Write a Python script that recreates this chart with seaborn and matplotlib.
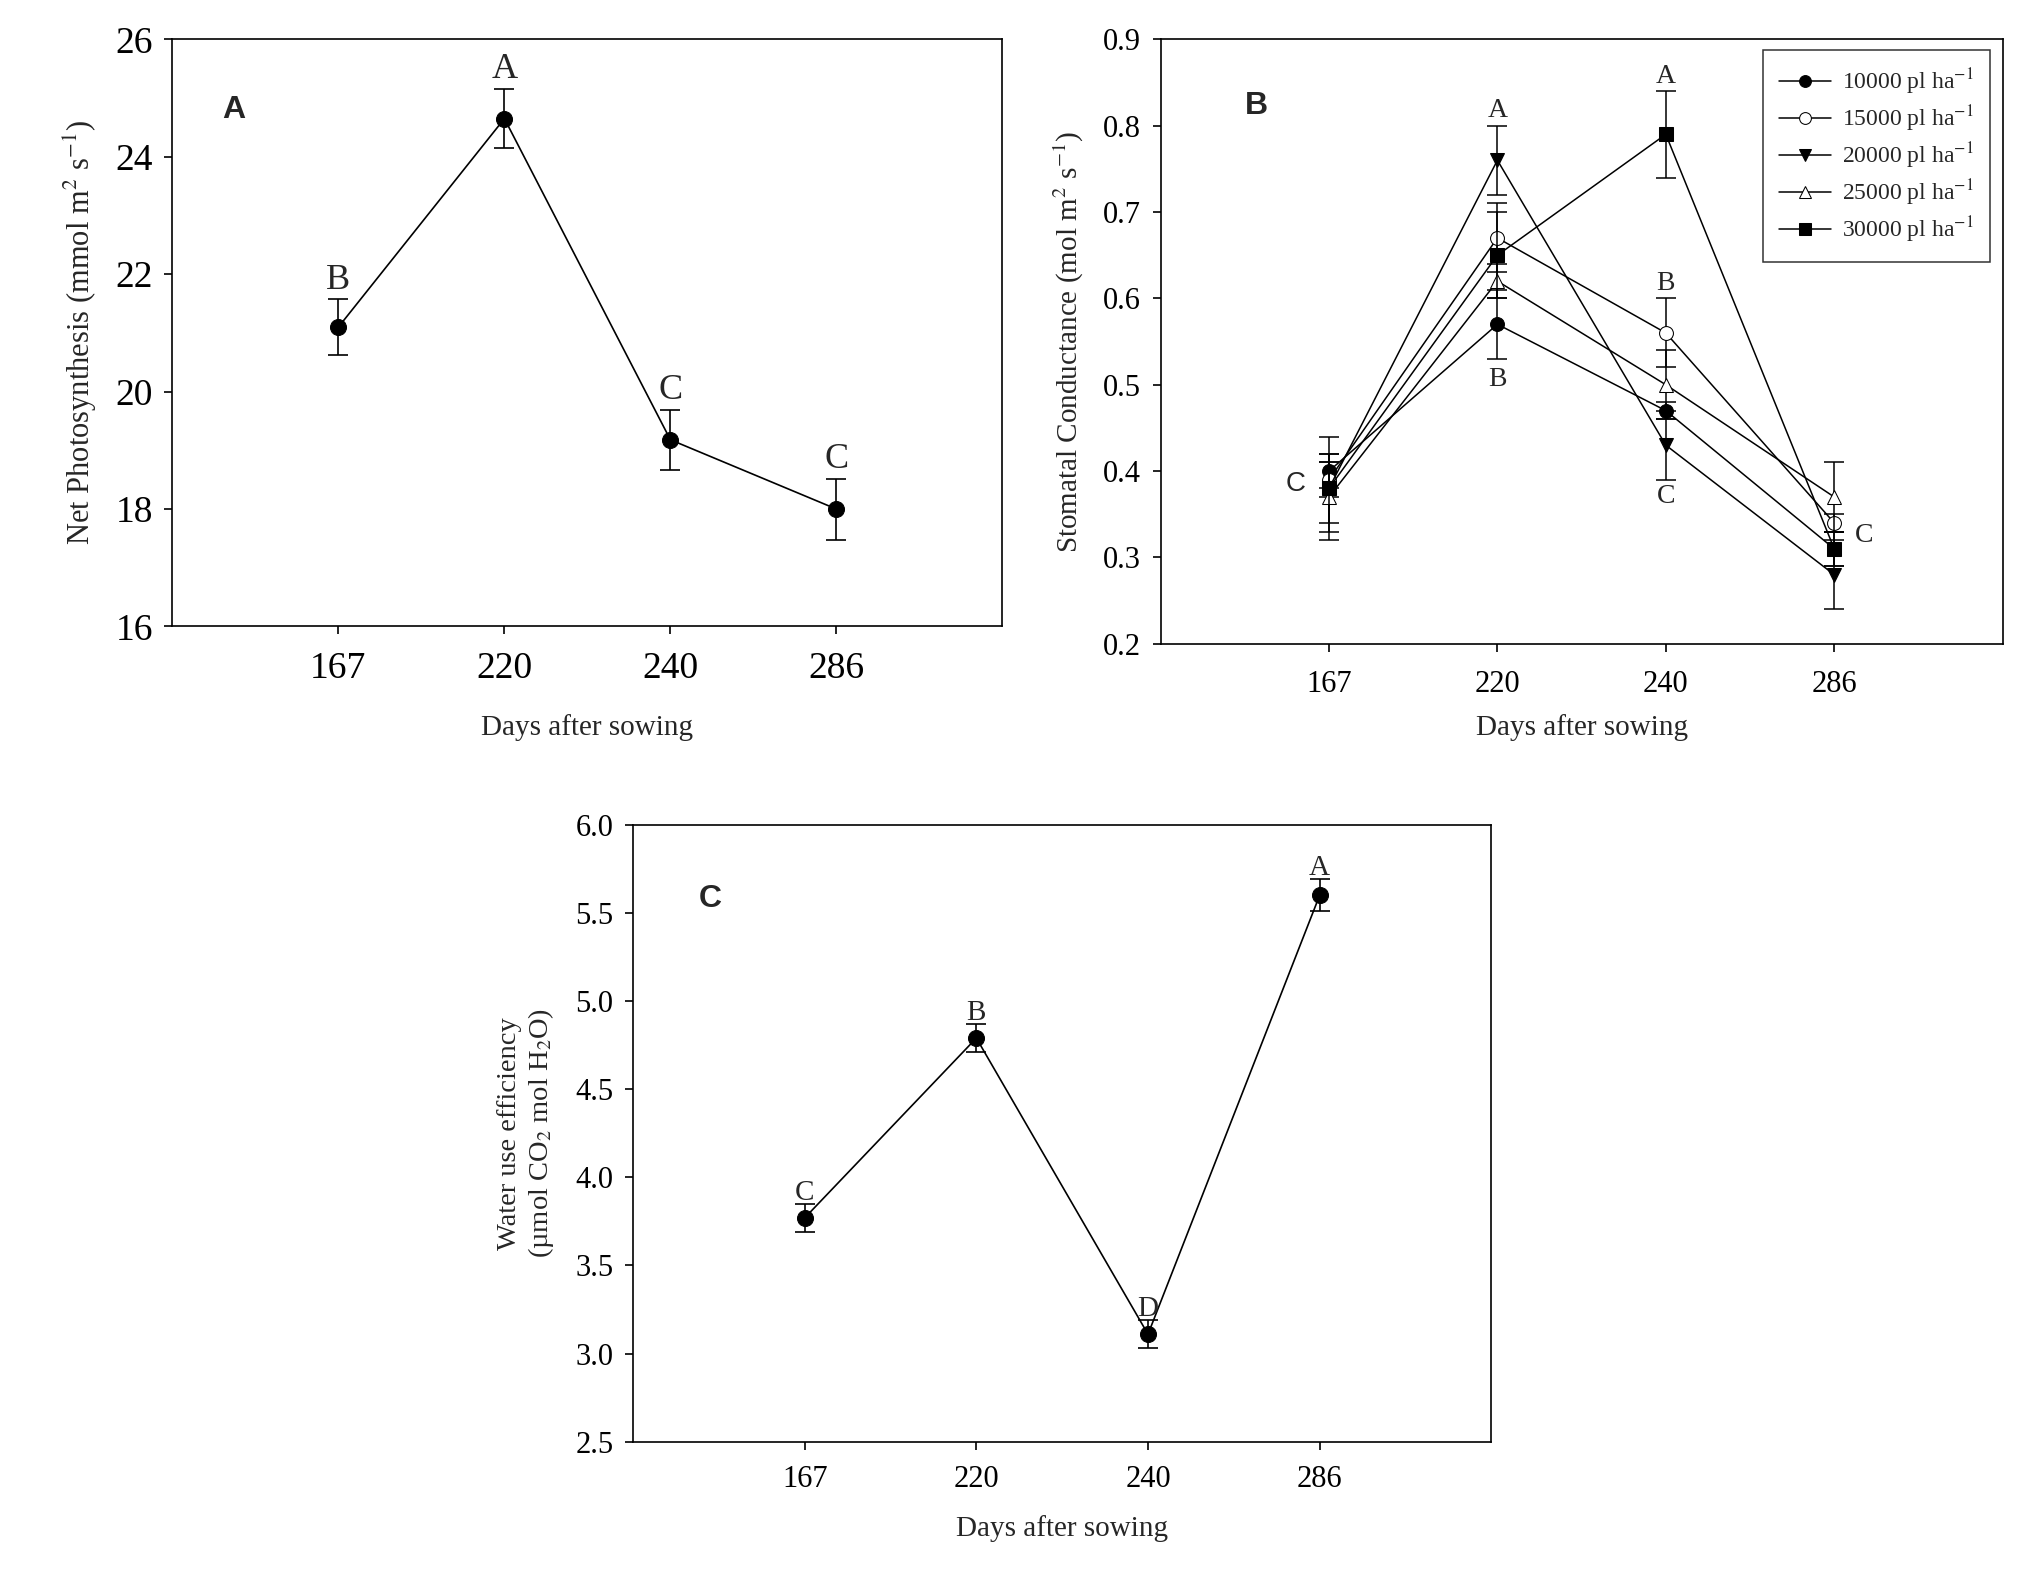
import numpy as np
import pandas as pd
import matplotlib
matplotlib.use("Agg")
import matplotlib.pyplot as plt
import seaborn as sns

# data
days = ["167", "220", "240", "286"]

pn_mean = [21.1, 24.65, 19.18, 18.0]
pn_err = [0.47, 0.50, 0.51, 0.52]
pn_letters = ["B", "A", "C", "C"]

densities = ["10000", "15000", "20000", "25000", "30000"]
gs_10000 = [0.40, 0.57, 0.47, 0.31]
gs_15000 = [0.39, 0.67, 0.56, 0.34]
gs_20000 = [0.38, 0.76, 0.43, 0.28]
gs_25000 = [0.37, 0.62, 0.50, 0.37]
gs_30000 = [0.38, 0.65, 0.79, 0.31]
gs_err_10000 = [0.02, 0.04, 0.01, 0.02]
gs_err_15000 = [0.02, 0.04, 0.04, 0.01]
gs_err_20000 = [0.04, 0.04, 0.04, 0.04]
gs_err_25000 = [0.04, 0.02, 0.04, 0.04]
gs_err_30000 = [0.06, 0.05, 0.05, 0.02]

wue_mean = [3.77, 4.79, 3.11, 5.60]
wue_err = [0.08, 0.08, 0.08, 0.09]
wue_letters = ["C", "B", "D", "A"]

sns.set_theme(style="ticks")
plt.rcParams['font.family'] = ['Liberation Serif', 'DejaVu Serif']
plt.rcParams['mathtext.fontset'] = 'stix'
plt.rcParams['axes.linewidth'] = 1.2
plt.rcParams['xtick.major.width'] = 1.2
plt.rcParams['ytick.major.width'] = 1.2
plt.rcParams['xtick.major.size'] = 6
plt.rcParams['ytick.major.size'] = 6

pos = np.arange(1, len(days) + 1)

fig = plt.figure(figsize=(20.29, 15.74), dpi=100)
axA = fig.add_axes([0.085, 0.602, 0.409, 0.373])
axB = fig.add_axes([0.572, 0.591, 0.415, 0.384])
axC = fig.add_axes([0.312, 0.084, 0.423, 0.392])

for ax in (axA, axB, axC):
    ax.set_xlim(0, 5)
    ax.set_xticks(pos)
    ax.set_xticklabels(days)
    ax.tick_params(top=False, right=False, direction='out', colors='black')
    for s in ax.spines.values():
        s.set_color('black')
        s.set_visible(True)

# ---- panel A
dfA = pd.DataFrame({"pos": pos, "pn": pn_mean})
axA.errorbar(pos, pn_mean, yerr=pn_err, fmt='none', ecolor='black', capsize=7, elinewidth=1.2, capthick=1.2)
sns.lineplot(data=dfA, x="pos", y="pn", ax=axA, color='black', linewidth=1.2,
             marker='o', markersize=11.5, markeredgecolor='black', markerfacecolor='black')
for p, m, e, t in zip(pos, pn_mean, pn_err, pn_letters):
    axA.text(p, m + e + 0.05, t, ha='center', va='bottom', fontsize=26)
axA.set_ylim(16, 26)
axA.set_yticks(np.arange(16, 27, 2))
axA.tick_params(axis='y', labelsize=27, pad=8)
axA.tick_params(axis='x', labelsize=27, pad=12)
axA.set_ylabel("Net Photosynthesis (mmol m$^2$ s$^{-1}$)", fontsize=22, labelpad=12)
axA.set_xlabel("Days after sowing", fontsize=21, labelpad=20)
axA.text(0.06, 0.88, "A", transform=axA.transAxes, fontsize=23, fontweight='bold',
         family='Liberation Sans', va='center')

# ---- panel B
series = [gs_10000, gs_15000, gs_20000, gs_25000, gs_30000]
errs = [gs_err_10000, gs_err_15000, gs_err_20000, gs_err_25000, gs_err_30000]
markers = ['o', 'o', 'v', '^', 's']
faces = ['black', 'white', 'black', 'white', 'black']
for d, vals, er, mk, fc in zip(densities, series, errs, markers, faces):
    axB.errorbar(pos, vals, yerr=er, fmt='none', ecolor='black', capsize=7.5, elinewidth=1.1, capthick=1.1)
    dfB = pd.DataFrame({"pos": pos, "gs": vals})
    sns.lineplot(data=dfB, x="pos", y="gs", ax=axB, color='black', linewidth=1.1,
                 marker=mk, markersize=10, markeredgecolor='black', markerfacecolor=fc,
                 label=d + " pl ha$^{-1}$")
axB.set_ylim(0.2, 0.9)
axB.set_yticks(np.arange(0.2, 0.91, 0.1))
axB.set_yticklabels([f"{v:.1f}" for v in np.arange(0.2, 0.91, 0.1)])
axB.tick_params(axis='y', labelsize=22, pad=8)
axB.tick_params(axis='x', labelsize=22, pad=13)
axB.set_ylabel("Stomatal Conductance (mol m$^2$ s$^{-1}$)", fontsize=21, labelpad=12)
axB.set_xlabel("Days after sowing", fontsize=21, labelpad=11)
axB.text(0.10, 0.89, "B", transform=axB.transAxes, fontsize=23, fontweight='bold',
         family='Liberation Sans', va='center')
axB.text(2, 0.803, "A", ha='center', va='bottom', fontsize=20)
axB.text(2, 0.52, "B", ha='center', va='top', fontsize=20)
axB.text(3, 0.843, "A", ha='center', va='bottom', fontsize=20)
axB.text(3, 0.603, "B", ha='center', va='bottom', fontsize=20)
axB.text(3, 0.385, "C", ha='center', va='top', fontsize=20)
axB.text(0.86, 0.385, "C", ha='right', va='center', fontsize=20, family='Liberation Sans')
axB.text(4.12, 0.325, "C", ha='left', va='center', fontsize=20)
leg = axB.legend(loc='upper right', fontsize=17, frameon=True, fancybox=False,
                 edgecolor='black', handlelength=2.2, handletextpad=0.45, borderpad=0.7,
                 labelspacing=0.28, borderaxespad=0, bbox_to_anchor=(0.985, 0.983),
                 markerscale=0.85)
leg.get_frame().set_linewidth(1.1)

# ---- panel C
dfC = pd.DataFrame({"pos": pos, "wue": wue_mean})
axC.errorbar(pos, wue_mean, yerr=wue_err, fmt='none', ecolor='black', capsize=7, elinewidth=1.2, capthick=1.2)
sns.lineplot(data=dfC, x="pos", y="wue", ax=axC, color='black', linewidth=1.2,
             marker='o', markersize=11.5, markeredgecolor='black', markerfacecolor='black')
for p, m, e, t in zip(pos, wue_mean, wue_err, wue_letters):
    axC.text(p, m + e - 0.01, t, ha='center', va='bottom', fontsize=21)
axC.set_ylim(2.5, 6.0)
axC.set_yticks(np.arange(2.5, 6.01, 0.5))
axC.set_yticklabels([f"{v:.1f}" for v in np.arange(2.5, 6.01, 0.5)])
axC.tick_params(axis='y', labelsize=22, pad=8)
axC.tick_params(axis='x', labelsize=22, pad=11)
axC.set_ylabel("Water use efficiency\n(µmol CO$_2$ mol H$_2$O)", fontsize=20.5, labelpad=14)
axC.set_xlabel("Days after sowing", fontsize=21, labelpad=15)
axC.text(0.076, 0.88, "C", transform=axC.transAxes, fontsize=23, fontweight='bold',
         family='Liberation Sans', va='center')

fig.savefig("out.png", dpi=100, facecolor='white')
